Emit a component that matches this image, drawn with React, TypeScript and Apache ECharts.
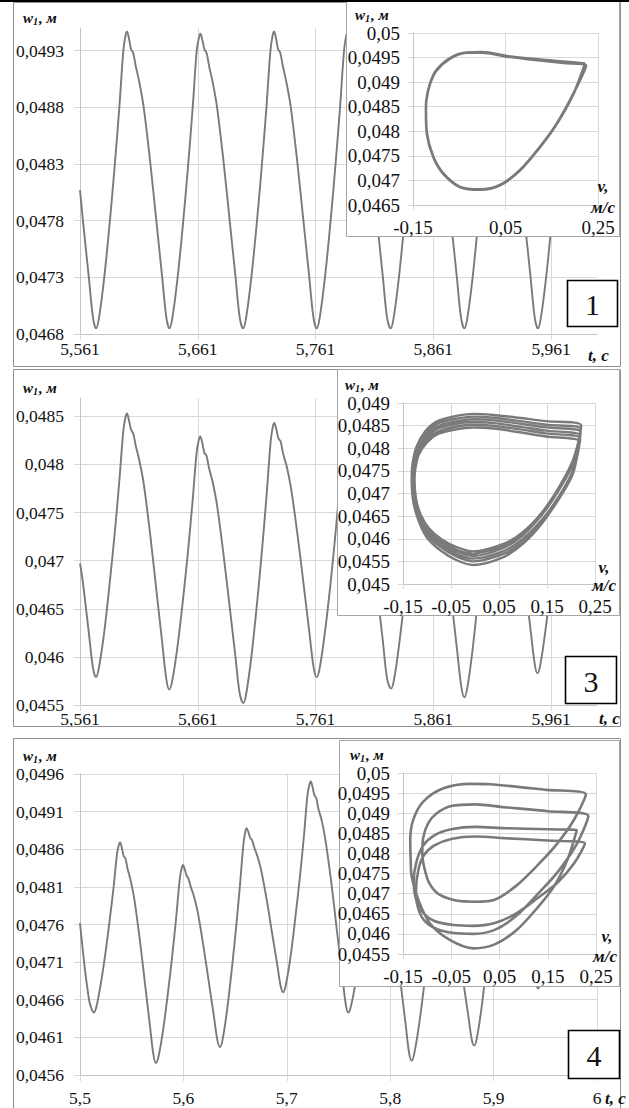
import React, { useEffect, useRef } from "react";
import * as echarts from "echarts";

// ---------------- data (t, c ; w1, м) ----------------
const P1_TW: [number, number][] = [
  [5.561,0.04807],[5.5635,0.0478],[5.5685,0.0473],[5.5721,0.04694],
  [5.5746,0.04685],[5.5771,0.04694],[5.5816,0.0473],[5.5864,0.0478],[5.5906,0.0483],[5.5944,0.0488],[5.5978,0.0493],[5.5996,0.04943],[5.6009,0.04947],[5.6027,0.0494],[5.6044,0.04931],[5.6062,0.04928],[5.6084,0.04916],[5.6114,0.04902],[5.6151,0.0488],[5.6208,0.0483],[5.6258,0.0478],[5.6308,0.0473],[5.6344,0.04694],
  [5.6369,0.04685],[5.6394,0.04694],[5.6439,0.0473],[5.6487,0.0478],[5.6529,0.0483],[5.6567,0.0488],[5.6601,0.0493],[5.6619,0.04941],[5.6632,0.04945],[5.665,0.04939],[5.6667,0.04931],[5.6685,0.04928],[5.6707,0.04916],[5.6737,0.04902],[5.6774,0.0488],[5.6831,0.0483],[5.6881,0.0478],[5.6931,0.0473],[5.6967,0.04694],
  [5.6995,0.04685],[5.702,0.04694],[5.7065,0.0473],[5.7113,0.0478],[5.7155,0.0483],[5.7193,0.0488],[5.7227,0.0493],[5.7245,0.04943],[5.7258,0.04947],[5.7276,0.0494],[5.7293,0.04931],[5.7311,0.04928],[5.7333,0.04916],[5.7363,0.04902],[5.74,0.0488],[5.7457,0.0483],[5.7507,0.0478],[5.7557,0.0473],[5.7593,0.04694],
  [5.762,0.04685],[5.7645,0.04694],[5.769,0.0473],[5.7738,0.0478],[5.778,0.0483],[5.7818,0.0488],[5.7852,0.0493],[5.787,0.04943],[5.7883,0.04947],[5.7901,0.0494],[5.7918,0.04931],[5.7936,0.04928],[5.7958,0.04916],[5.7988,0.04902],[5.8025,0.0488],[5.8082,0.0483],[5.8132,0.0478],[5.8182,0.0473],[5.8218,0.04694],
  [5.8248,0.04685],[5.8273,0.04694],[5.8318,0.0473],[5.8366,0.0478],[5.8408,0.0483],[5.8446,0.0488],[5.848,0.0493],[5.8498,0.04943],[5.8511,0.04947],[5.8529,0.0494],[5.8546,0.04931],[5.8564,0.04928],[5.8586,0.04916],[5.8616,0.04902],[5.8653,0.0488],[5.871,0.0483],[5.876,0.0478],[5.881,0.0473],[5.8846,0.04694],
  [5.8874,0.04685],[5.8899,0.04694],[5.8944,0.0473],[5.8992,0.0478],[5.9034,0.0483],[5.9072,0.0488],[5.9106,0.0493],[5.9124,0.04943],[5.9137,0.04947],[5.9155,0.0494],[5.9172,0.04931],[5.919,0.04928],[5.9212,0.04916],[5.9242,0.04902],[5.9279,0.0488],[5.9336,0.0483],[5.9386,0.0478],[5.9436,0.0473],[5.9472,0.04694],
  [5.9498,0.04685],[5.9523,0.04694],[5.9568,0.0473],[5.9616,0.0478],[5.9658,0.0483],[5.9696,0.0488],[5.973,0.0493],[5.9748,0.04943],[5.9761,0.04947],[5.9779,0.0494],[5.9796,0.04931],[5.9814,0.04928],[5.9836,0.04916],[5.9866,0.04902],[5.9903,0.0488],[5.996,0.0483],[6.0,0.04795],
];

const P3_TW: [number, number][] = [
  [5.561,0.04697],[5.5635,0.04677],[5.5685,0.04625],[5.5721,0.04588],
  [5.5746,0.04579],[5.5771,0.04589],[5.5816,0.04626],[5.5864,0.04679],[5.5906,0.0473],[5.5944,0.04783],[5.5978,0.04835],[5.5996,0.04849],[5.6009,0.04853],[5.6027,0.04845],[5.6044,0.04836],[5.6062,0.04832],[5.6084,0.04819],[5.6114,0.04804],[5.6151,0.0478],[5.6208,0.04725],[5.6258,0.0467],[5.6308,0.04615],[5.6344,0.04576],
  [5.6368,0.04566],[5.6393,0.04575],[5.6438,0.04611],[5.6486,0.04661],[5.6528,0.04711],[5.6566,0.04762],[5.66,0.04812],[5.6618,0.04825],[5.6631,0.04829],[5.6649,0.04822],[5.6666,0.04812],[5.6684,0.04809],[5.6706,0.04796],[5.6736,0.04782],[5.6773,0.04758],[5.683,0.04705],[5.688,0.04653],[5.693,0.046],[5.6966,0.04562],
  [5.6997,0.04552],[5.7022,0.04562],[5.7067,0.04602],[5.7115,0.04658],[5.7157,0.04713],[5.7195,0.04769],[5.7229,0.04824],[5.7247,0.04839],[5.726,0.04843],[5.7278,0.04836],[5.7295,0.04827],[5.7313,0.04824],[5.7335,0.04811],[5.7365,0.04798],[5.7402,0.04775],[5.7459,0.04725],[5.7509,0.04675],[5.7559,0.04624],[5.7595,0.04588],
  [5.762,0.04579],[5.7645,0.04588],[5.769,0.04626],[5.7738,0.04677],[5.778,0.04729],[5.7818,0.04781],[5.7852,0.04832],[5.787,0.04846],[5.7883,0.0485],[5.7901,0.04842],[5.7918,0.04833],[5.7936,0.04829],[5.7958,0.04816],[5.7988,0.04802],[5.8025,0.04778],[5.8082,0.04724],[5.8132,0.0467],[5.8182,0.04616],[5.8218,0.04577],
  [5.8251,0.04567],[5.8276,0.04576],[5.8321,0.04614],[5.8369,0.04665],[5.8411,0.04717],[5.8449,0.04769],[5.8483,0.0482],[5.8501,0.04834],[5.8514,0.04838],[5.8532,0.0483],[5.8549,0.04821],[5.8567,0.04818],[5.8589,0.04804],[5.8619,0.0479],[5.8656,0.04766],[5.8713,0.04713],[5.8763,0.0466],[5.8813,0.04606],[5.8849,0.04568],
  [5.8874,0.04558],[5.8899,0.04568],[5.8944,0.04608],[5.8992,0.04663],[5.9034,0.04717],[5.9072,0.04772],[5.9106,0.04827],[5.9124,0.04842],[5.9137,0.04846],[5.9155,0.04839],[5.9172,0.0483],[5.919,0.04827],[5.9212,0.04814],[5.9242,0.04801],[5.9279,0.04779],[5.9336,0.04728],[5.9386,0.04679],[5.9436,0.04628],[5.9472,0.04592],
  [5.9494,0.04583],[5.9519,0.04592],[5.9564,0.04629],[5.9612,0.0468],[5.9654,0.04731],[5.9692,0.04782],[5.9726,0.04833],[5.9744,0.04846],[5.9757,0.0485],[5.9775,0.04842],[5.9792,0.04833],[5.981,0.04829],[5.9832,0.04816],[5.9862,0.04802],[5.9899,0.04778],[5.9956,0.04724],[6.0,0.0468],
];

const P4_TW: [number, number][] = [
  [5.5,0.04762],[5.5048,0.047],[5.509,0.04658],[5.5112,0.04648],
  [5.5135,0.04643],[5.5159,0.04651],[5.5202,0.04682],[5.5249,0.04725],[5.5289,0.04768],[5.5326,0.04811],[5.5358,0.04854],[5.5376,0.04866],[5.5388,0.04869],[5.5406,0.04861],[5.5422,0.04851],[5.5439,0.04848],[5.546,0.04834],[5.5489,0.04819],[5.5525,0.04794],[5.558,0.04738],[5.5628,0.04682],[5.5676,0.04626],[5.5711,0.04586],
  [5.5735,0.04576],[5.576,0.04585],[5.5805,0.04621],[5.5852,0.04671],[5.5894,0.04721],[5.5932,0.04772],[5.5966,0.04822],[5.5984,0.04835],[5.5996,0.04839],[5.6014,0.04833],[5.6031,0.04825],[5.6049,0.04821],[5.6071,0.0481],[5.6101,0.04798],[5.6138,0.04777],[5.6194,0.04731],[5.6244,0.04685],[5.6294,0.04639],[5.6329,0.04606],
  [5.6354,0.04597],[5.6379,0.04607],[5.6423,0.04647],[5.647,0.04703],[5.6511,0.04758],[5.6548,0.04814],[5.6582,0.04869],[5.66,0.04884],[5.6612,0.04888],[5.663,0.04882],[5.6647,0.04875],[5.6664,0.04872],[5.6686,0.04862],[5.6715,0.04851],[5.6752,0.04832],[5.6808,0.04791],[5.6857,0.04749],[5.6906,0.04708],[5.6941,0.04678],
  [5.6966,0.0467],[5.6991,0.0468],[5.7037,0.04718],[5.7085,0.04772],[5.7128,0.04825],[5.7166,0.04878],[5.72,0.04932],[5.7219,0.04946],[5.7232,0.0495],[5.725,0.04942],[5.7267,0.04932],[5.7285,0.04928],[5.7307,0.04913],[5.7338,0.04898],[5.7375,0.04871],[5.7433,0.04813],[5.7483,0.04754],[5.7534,0.04696],[5.757,0.04654],
  [5.7595,0.04643],[5.762,0.04651],[5.7664,0.04682],[5.7711,0.04725],[5.7752,0.04768],[5.779,0.04811],[5.7823,0.04854],[5.7841,0.04866],[5.7854,0.04869],[5.7872,0.04861],[5.7888,0.04852],[5.7906,0.04848],[5.7928,0.04834],[5.7957,0.0482],[5.7994,0.04795],[5.805,0.04739],[5.8099,0.04684],[5.8148,0.04629],[5.8183,0.04589],
  [5.8208,0.04579],[5.8232,0.04588],[5.8276,0.04624],[5.8323,0.04673],[5.8363,0.04723],[5.84,0.04772],[5.8433,0.04822],[5.8451,0.04835],[5.8463,0.04839],[5.8481,0.04833],[5.8497,0.04825],[5.8515,0.04822],[5.8536,0.0481],[5.8565,0.04798],[5.8601,0.04778],[5.8657,0.04732],[5.8705,0.04686],[5.8754,0.0464],[5.8789,0.04607],
  [5.8813,0.04599],[5.8838,0.04609],[5.8883,0.04649],[5.893,0.04704],[5.8972,0.04759],[5.901,0.04814],[5.9044,0.04869],[5.9062,0.04884],[5.9074,0.04888],[5.9092,0.04882],[5.9109,0.04875],[5.9127,0.04873],[5.9149,0.04862],[5.9179,0.04852],[5.9216,0.04834],[5.9272,0.04793],[5.9322,0.04752],[5.9372,0.04712],[5.9407,0.04683],
  [5.9432,0.04675],[5.9457,0.04685],[5.9502,0.04722],[5.955,0.04775],[5.9592,0.04827],[5.963,0.0488],[5.9664,0.04932],[5.9682,0.04946],[5.9695,0.0495],[5.9713,0.04942],[5.973,0.04932],[5.9748,0.04928],[5.977,0.04913],[5.98,0.04898],[5.9837,0.04871],[5.9894,0.04813],[5.9944,0.04754],[6.0,0.04692],
];

// phase portraits (v, м/с ; w1, м)
const PH1_VW: [number, number][] = [
  [0.222,0.04938],[0.175,0.04942],[0.125,0.04946],[0.053,0.04953],[0.0,0.04961],[-0.035,0.0496],[-0.07,0.04949],[-0.099,0.04925],[-0.113,0.04898],[-0.121,0.04865],[-0.122,0.04843],[-0.12,0.04796],[-0.106,0.04748],[-0.085,0.04715],[-0.048,0.04687],[-0.005,0.04682],[0.038,0.04691],[0.081,0.04721],[0.125,0.04769],[0.161,0.04816],[0.197,0.04877],
  [0.224,0.04934],[0.175,0.04939],[0.125,0.04944],[0.053,0.04952],[0.0,0.0496],[-0.035,0.0496],[-0.07,0.04948],[-0.099,0.04924],[-0.113,0.04897],[-0.121,0.04864],[-0.122,0.04842],[-0.12,0.04795],[-0.106,0.04747],[-0.085,0.04714],[-0.048,0.04686],[-0.005,0.04681],[0.038,0.0469],[0.081,0.0472],[0.125,0.04768],[0.161,0.04815],[0.197,0.04876],[0.222,0.04938],
];

const PH3_VW: [number, number][] = [
  [-0.004,0.04566],[0.058,0.04583],[0.099,0.04612],[0.141,0.0466],[0.175,0.04714],[0.203,0.04771],[0.216,0.04817],[0.221,0.04851],
  [0.148,0.0486],[0.044,0.04873],[-0.004,0.04876],[-0.046,0.0487],[-0.08,0.04859],[-0.104,0.04837],[-0.122,0.04803],[-0.13,0.04767],[-0.132,0.04737],[-0.129,0.04685],[-0.118,0.04641],[-0.101,0.04604],[-0.073,0.04575],[-0.039,0.04553],[-0.004,0.04542],
  [0.058,0.04559],[0.099,0.04588],[0.141,0.04636],[0.175,0.04691],[0.203,0.04748],[0.214,0.04794],[0.219,0.04828],
  [0.148,0.04839],[0.044,0.04855],[-0.004,0.04858],[-0.045,0.04853],[-0.078,0.04843],[-0.101,0.04823],[-0.118,0.04793],[-0.126,0.04762],[-0.128,0.04735],[-0.125,0.04689],[-0.114,0.0465],[-0.098,0.04617],[-0.071,0.04591],[-0.038,0.04572],[-0.004,0.04562],
  [0.058,0.04579],[0.099,0.04607],[0.141,0.04655],[0.175,0.04708],[0.203,0.04764],[0.215,0.04809],[0.22,0.04843],
  [0.148,0.04852],[0.044,0.04867],[-0.004,0.0487],[-0.046,0.04864],[-0.079,0.04854],[-0.103,0.04833],[-0.121,0.048],[-0.129,0.04766],[-0.131,0.04737],[-0.128,0.04687],[-0.117,0.04645],[-0.1,0.0461],[-0.072,0.04582],[-0.039,0.04561],[-0.004,0.0455],
  [0.058,0.04566],[0.099,0.04592],[0.141,0.04637],[0.175,0.04688],[0.203,0.04741],[0.213,0.04783],[0.218,0.04815],
  [0.148,0.04826],[0.044,0.04843],[-0.004,0.04846],[-0.044,0.04841],[-0.076,0.04832],[-0.099,0.04814],[-0.117,0.04786],[-0.124,0.04757],[-0.126,0.04732],[-0.123,0.04689],[-0.113,0.04653],[-0.096,0.04623],[-0.07,0.04599],[-0.037,0.04581],[-0.004,0.04572],
  [0.058,0.04588],[0.099,0.04614],[0.141,0.04659],[0.175,0.04709],[0.203,0.04762],[0.215,0.04804],[0.22,0.04836],
  [0.148,0.04846],[0.044,0.04861],[-0.004,0.04864],[-0.045,0.04858],[-0.078,0.04848],[-0.102,0.04828],[-0.119,0.04797],[-0.127,0.04764],[-0.129,0.04736],[-0.126,0.04688],[-0.115,0.04647],[-0.099,0.04613],[-0.071,0.04586],[-0.038,0.04566],[-0.004,0.04556],
  [0.058,0.04572],[0.099,0.04599],[0.141,0.04644],[0.175,0.04694],[0.203,0.04748],[0.214,0.0479],[0.219,0.04822],
  [0.148,0.04833],[0.044,0.04849],[-0.004,0.04852],[-0.044,0.04847],[-0.077,0.04837],[-0.1,0.04819],[-0.117,0.04789],[-0.125,0.04759],[-0.127,0.04733],[-0.124,0.04688],[-0.114,0.04651],[-0.097,0.04619],[-0.07,0.04594],[-0.038,0.04575],[-0.004,0.04566],
];

const PH4_VW: [number, number][] = [
  [0.0,0.0468],[0.04,0.04685],[0.085,0.0472],[0.13,0.04772],[0.17,0.04825],[0.205,0.04885],[0.229,0.04947],
  [0.148,0.04958],[0.03,0.04972],[-0.011,0.04973],[-0.066,0.04962],[-0.108,0.04929],[-0.129,0.04883],[-0.135,0.04833],[-0.134,0.0478],
  [-0.132,0.04742],[-0.118,0.04684],[-0.094,0.04626],[-0.053,0.04585],[-0.004,0.04564],
  [0.04,0.04574],[0.085,0.04609],[0.128,0.04664],[0.163,0.04718],[0.192,0.04788],[0.21,0.04858],
  [0.15,0.0486],[0.06,0.04863],[0.0,0.04866],[-0.05,0.0486],[-0.085,0.04845],[-0.108,0.0482],[-0.122,0.0478],[-0.128,0.0473],
  [-0.124,0.0469],[-0.11,0.04655],[-0.085,0.04632],[-0.045,0.04622],[-0.005,0.0462],
  [0.04,0.04627],[0.085,0.04651],[0.13,0.0469],[0.17,0.04727],[0.205,0.04776],[0.227,0.04825],
  [0.15,0.04832],[0.06,0.04838],[0.0,0.04842],[-0.05,0.04836],[-0.085,0.0482],[-0.107,0.04795],[-0.118,0.0476],[-0.123,0.0471],
  [-0.12,0.0467],[-0.107,0.04635],[-0.08,0.04612],[-0.045,0.04602],[-0.005,0.046],
  [0.04,0.0461],[0.085,0.04645],[0.13,0.047],[0.17,0.04753],[0.21,0.04823],[0.234,0.04893],
  [0.15,0.04905],[0.06,0.04915],[0.0,0.04922],[-0.05,0.04918],[-0.08,0.049],[-0.098,0.04875],[-0.108,0.0484],[-0.11,0.048],
  [-0.105,0.0476],[-0.095,0.04725],[-0.075,0.04698],[-0.04,0.04683],[0.0,0.0468],
];

// axis ranges
const MAIN_X = [[5.561, 6.0], [5.561, 6.0], [5.5, 6.0]];
const MAIN_Y = [[0.0468, 0.0495], [0.0455, 0.04869], [0.0456, 0.0496]];
const INSET_Y = [[0.0465, 0.05], [0.045, 0.049], [0.0455, 0.05]];
const INSET_X = [-0.15, 0.25];
const INSET_X_STEP = [0.2, 0.1, 0.1];
const PANEL_LABELS = ["1", "3", "4"];

const FONT = "Liberation Serif, Times New Roman, DejaVu Serif, serif";
const fmt = (v: number) => String(parseFloat(v.toFixed(6))).replace(".", ",");
const GRID_C = "#d9d9d9";
const AXIS_C = "#c4c4c4";
const LINE_C = "#7a7a7a";

const titleW = (x: number, y: number, size: number) => ({
  type: "text", z: 9, x, y,
  style: {
    text: "{a|w}{b|1}{a|, м}", align: "left", verticalAlign: "middle",
    textAlign: "left", textVerticalAlign: "middle",
    rich: {
      a: { fontFamily: FONT, fontSize: size, fontWeight: "bold", fontStyle: "italic", fill: "#111", color: "#111" },
      b: { fontFamily: FONT, fontSize: size * 0.68, fontWeight: "bold", fontStyle: "italic", fill: "#111", color: "#111", padding: [7, 1, 0, 0] },
    },
  },
});
const plainText = (text: string, x: number, y: number, size: number, align = "left", bold = true) => ({
  type: "text", z: 9, x, y,
  style: {
    text, fontFamily: FONT, fontSize: size, fontWeight: bold ? "bold" : "normal", fontStyle: bold ? "italic" : "normal",
    fill: "#111", align, verticalAlign: "middle", textAlign: align, textVerticalAlign: "middle",
  },
});

export default function App() {
  const ref = useRef<HTMLDivElement>(null);
  useEffect(() => {
    if (!ref.current) return;
    const chart = echarts.init(ref.current, null, { renderer: "svg" });

    const mainGrids = [
      { left: 80, top: 28, width: 517, height: 306 },
      { left: 80, top: 398, width: 517, height: 307 },
      { left: 80, top: 774, width: 517, height: 301 },
    ];
    const insetGrids = [
      { left: 413, top: 33, width: 185, height: 172, z: 6 },
      { left: 403, top: 403, width: 192, height: 181, z: 6 },
      { left: 403, top: 773, width: 193, height: 181, z: 6 },
    ];
    const xMargins = [6, 5, 14];
    const lastMainLabel = [false, false, true];
    const labelStyle = (size: number) => ({ fontFamily: FONT, fontSize: size, color: "#111", fontWeight: "normal", fontStyle: "normal" });

    const xAxis: any[] = [];
    const yAxis: any[] = [];
    for (let i = 0; i < 3; i++) {
      xAxis.push({
        type: "value", gridIndex: i, min: MAIN_X[i][0], max: MAIN_X[i][1], interval: 0.1,
        axisLine: { show: true, onZero: false, lineStyle: { color: AXIS_C, width: 1 } },
        axisTick: { show: true, length: 6, lineStyle: { color: GRID_C } },
        splitLine: { show: true, showMaxLine: lastMainLabel[i], lineStyle: { color: GRID_C, width: 1 } },
        axisLabel: { margin: xMargins[i], showMaxLabel: lastMainLabel[i], formatter: fmt, ...labelStyle(17.5) },
      });
      yAxis.push({
        type: "value", gridIndex: i, min: MAIN_Y[i][0], max: MAIN_Y[i][1], interval: 0.0005,
        axisLine: { show: true, onZero: false, lineStyle: { color: AXIS_C, width: 1 } },
        axisTick: { show: true, length: 6, lineStyle: { color: GRID_C } },
        splitLine: { show: true, showMaxLine: lastMainLabel[i], lineStyle: { color: GRID_C, width: 1 } },
        axisLabel: { margin: 16, showMaxLabel: lastMainLabel[i], formatter: fmt, ...labelStyle(17.5) },
      });
    }
    for (let i = 0; i < 3; i++) {
      xAxis.push({
        type: "value", gridIndex: 3 + i, z: 6, min: INSET_X[0], max: INSET_X[1], interval: INSET_X_STEP[i],
        axisLine: { show: true, onZero: false, lineStyle: { color: AXIS_C, width: 1 } },
        axisTick: { show: true, length: 5, lineStyle: { color: GRID_C } },
        splitLine: { show: true, lineStyle: { color: GRID_C, width: 1 } },
        axisLabel: { margin: 13, formatter: fmt, ...labelStyle(19) },
      });
      yAxis.push({
        type: "value", gridIndex: 3 + i, z: 6, min: INSET_Y[i][0], max: INSET_Y[i][1], interval: 0.0005,
        axisLine: { show: true, onZero: false, lineStyle: { color: AXIS_C, width: 1 } },
        axisTick: { show: true, length: 5, lineStyle: { color: GRID_C } },
        splitLine: { show: true, lineStyle: { color: GRID_C, width: 1 } },
        axisLabel: { margin: 13, formatter: fmt, ...labelStyle(19) },
      });
    }

    const mainData = [P1_TW, P3_TW, P4_TW];
    const phaseData = [PH1_VW, PH3_VW, PH4_VW];
    const series: any[] = [];
    mainData.forEach((d, i) =>
      series.push({
        type: "line", xAxisIndex: i, yAxisIndex: i, data: d, symbol: "none", smooth: 0.35,
        lineStyle: { color: LINE_C, width: 1.9 }, z: 2, silent: true,
      })
    );
    phaseData.forEach((d, i) =>
      series.push({
        type: "line", xAxisIndex: 3 + i, yAxisIndex: 3 + i, data: d, symbol: "none", smooth: 0.3,
        lineStyle: { color: LINE_C, width: i === 1 ? 2.4 : 2.6 }, z: 7, silent: true,
      })
    );

    const frame = (x: number, y: number, w: number, h: number, z: number, fill: string, stroke: string, lw = 1) => ({
      type: "rect", z, shape: { x, y, width: w, height: h }, style: { fill, stroke, lineWidth: lw },
    });
    const boxes = [
      [567.5, 280.5, 50, 46],
      [565.5, 656.5, 51, 47],
      [568.5, 1030.5, 51, 48],
    ];
    const elements: any[] = [
      frame(13.5, 2.5, 607, 364, 1, "none", "#8f8f8f"),
      frame(13.5, 369.5, 607, 357, 1, "none", "#8f8f8f"),
      frame(13.5, 738.5, 607, 380, 1, "none", "#8f8f8f"),
      { type: "line", z: 9, shape: { x1: 0, y1: 1, x2: 629, y2: 1 }, style: { stroke: "#000", lineWidth: 2 } },
      frame(346.5, 1.5, 273, 235, 5, "#fff", "#a6a6a6"),
      frame(337.5, 369.5, 282, 246, 5, "#fff", "#a6a6a6"),
      frame(339.5, 740.5, 280, 246, 5, "#fff", "#a6a6a6"),
    ];
    boxes.forEach((b, i) => {
      elements.push(frame(b[0], b[1], b[2], b[3], 5, "#fff", "#000", 1.6));
      elements.push(plainText(PANEL_LABELS[i], b[0] + b[2] / 2, b[1] + b[3] / 2 + 1, 30, "center", false));
    });
    // axis titles
    elements.push(titleW(23, 18, 15), titleW(23, 388, 15), titleW(23, 756, 15));
    elements.push(titleW(355, 15, 15), titleW(345, 385, 15), titleW(350, 755, 15));
    elements.push(plainText("t, с", 588, 355, 17), plainText("t, с", 599, 718, 17), plainText("t, с", 605, 1098, 17));
    elements.push(plainText("v,", 603, 186, 17, "center"), plainText("м/с", 603, 207, 17, "center"));
    elements.push(plainText("v,", 604, 567, 17, "center"), plainText("м/с", 604, 585, 17, "center"));
    elements.push(plainText("v,", 607, 936, 17, "center"), plainText("м/с", 605, 956, 17, "center"));

    chart.setOption({
      animation: false,
      backgroundColor: "#fff",
      textStyle: { fontFamily: FONT },
      grid: [...mainGrids, ...insetGrids],
      xAxis,
      yAxis,
      series,
      graphic: { elements },
    });
    return () => chart.dispose();
  }, []);
  return (
    <div
      ref={ref}
      style={{ position: "absolute", left: 0, top: 0, width: 629, height: 1108, fontFamily: FONT }}
    />
  );
}
